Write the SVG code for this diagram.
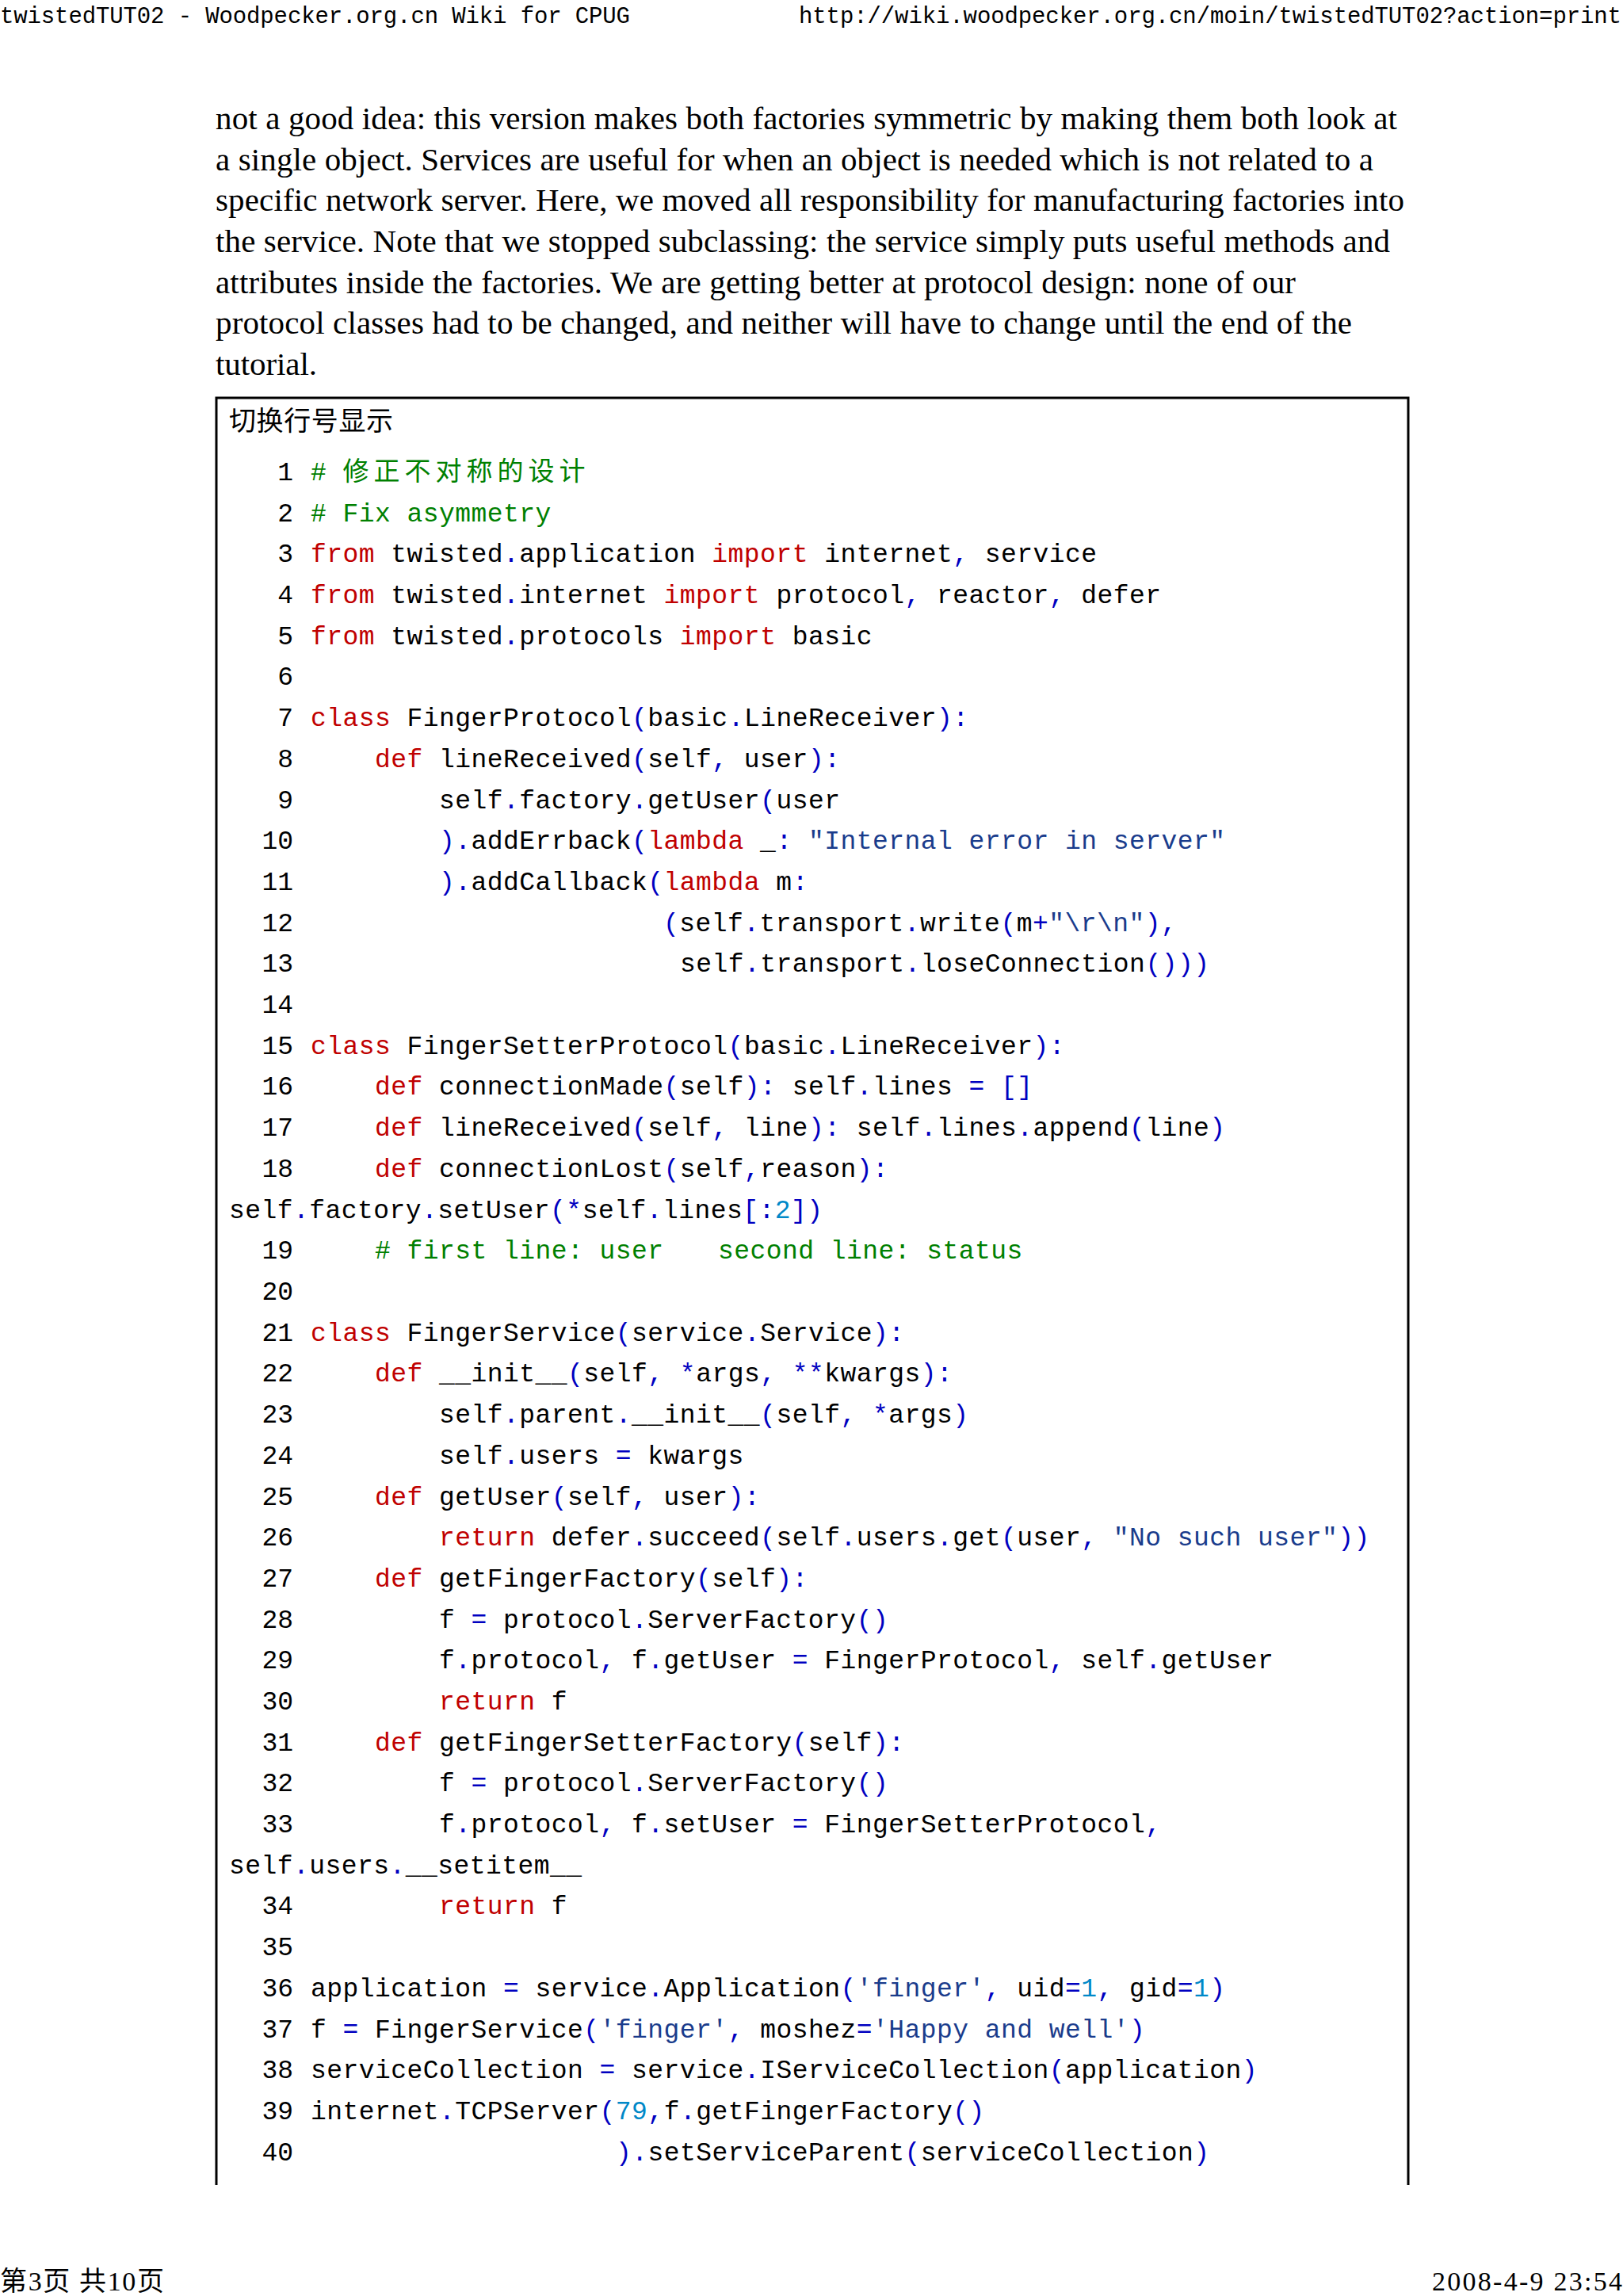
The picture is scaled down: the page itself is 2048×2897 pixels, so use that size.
<svg xmlns="http://www.w3.org/2000/svg" width="2048" height="2897" viewBox="0 0 2048 2897">
<style>
.hd{font-family:"Liberation Mono",monospace;font-size:29px;fill:#000}
.pr{font-family:"Liberation Serif",serif;font-size:41px;fill:#000}
.cd{font-family:"Liberation Mono","Noto Sans CJK SC",monospace;font-size:33px;letter-spacing:0.45px;fill:#000}
.ln{font-family:"Liberation Mono",monospace;font-size:33px;fill:#000}
.k{fill:#c00000}.c{fill:#008000}.s{fill:#1a3c8c}.p{fill:#0000c0}.n{fill:#0088c8}
.ft{font-family:"Liberation Serif","Noto Sans CJK SC",serif;font-size:34px;fill:#000}
</style>
<rect width="2048" height="2897" fill="#fff"/>
<g id="header">
<text class="hd" x="0" y="29" textLength="795" lengthAdjust="spacing">twistedTUT02 - Woodpecker.org.cn Wiki for CPUG</text>
<text class="hd" x="1008" y="29" textLength="1038" lengthAdjust="spacing">http://wiki.woodpecker.org.cn/moin/twistedTUT02?action=print</text>
</g>
<g id="paragraph">
<text class="pr" x="272" y="163" textLength="1491" lengthAdjust="spacing">not a good idea: this version makes both factories symmetric by making them both look at</text>
<text class="pr" x="272" y="215" textLength="1461" lengthAdjust="spacing">a single object. Services are useful for when an object is needed which is not related to a</text>
<text class="pr" x="272" y="266" textLength="1500" lengthAdjust="spacing">specific network server. Here, we moved all responsibility for manufacturing factories into</text>
<text class="pr" x="272" y="318" textLength="1482" lengthAdjust="spacing">the service. Note that we stopped subclassing: the service simply puts useful methods and</text>
<text class="pr" x="272" y="370" textLength="1363" lengthAdjust="spacing">attributes inside the factories. We are getting better at protocol design: none of our</text>
<text class="pr" x="272" y="421" textLength="1434" lengthAdjust="spacing">protocol classes had to be changed, and neither will have to change until the end of the</text>
<text class="pr" x="272" y="473" textLength="128" lengthAdjust="spacing">tutorial.</text>
</g>
<g id="codebox">
<path d="M273 2757 V502 H1777 V2757" fill="none" stroke="#000" stroke-width="3"/>
<text class="ft" x="289" y="543" font-family="Liberation Sans,Noto Sans CJK SC,sans-serif" textLength="207" lengthAdjust="spacing">切换行号显示</text>
</g>
<g id="linenumbers" class="ln" text-anchor="end" transform="translate(0,-5)">
<text x="370" y="611">1</text><text x="370" y="663">2</text><text x="370" y="714">3</text><text x="370" y="766">4</text><text x="370" y="818">5</text><text x="370" y="869">6</text><text x="370" y="921">7</text><text x="370" y="973">8</text><text x="370" y="1025">9</text><text x="370" y="1076">10</text><text x="370" y="1128">11</text><text x="370" y="1180">12</text><text x="370" y="1231">13</text><text x="370" y="1283">14</text><text x="370" y="1335">15</text><text x="370" y="1386">16</text><text x="370" y="1438">17</text><text x="370" y="1490">18</text><text x="370" y="1593">19</text><text x="370" y="1645">20</text><text x="370" y="1697">21</text><text x="370" y="1748">22</text><text x="370" y="1800">23</text><text x="370" y="1852">24</text><text x="370" y="1904">25</text><text x="370" y="1955">26</text><text x="370" y="2007">27</text><text x="370" y="2059">28</text><text x="370" y="2110">29</text><text x="370" y="2162">30</text><text x="370" y="2214">31</text><text x="370" y="2265">32</text><text x="370" y="2317">33</text><text x="370" y="2420">34</text><text x="370" y="2472">35</text><text x="370" y="2524">36</text><text x="370" y="2576">37</text><text x="370" y="2627">38</text><text x="370" y="2679">39</text><text x="370" y="2731">40</text>
</g>
<g id="code" class="cd" transform="translate(0,-5)">
<text x="392" y="611"><tspan class="c"># </tspan><tspan class="c" letter-spacing="6">修正不对称的设计</tspan></text>
<text x="392" y="663"><tspan class="c"># Fix asymmetry</tspan></text>
<text x="392" y="714"><tspan class="k">from</tspan> twisted<tspan class="p">.</tspan>application <tspan class="k">import</tspan> internet<tspan class="p">,</tspan> service</text>
<text x="392" y="766"><tspan class="k">from</tspan> twisted<tspan class="p">.</tspan>internet <tspan class="k">import</tspan> protocol<tspan class="p">,</tspan> reactor<tspan class="p">,</tspan> defer</text>
<text x="392" y="818"><tspan class="k">from</tspan> twisted<tspan class="p">.</tspan>protocols <tspan class="k">import</tspan> basic</text>
<text x="392" y="921"><tspan class="k">class</tspan> FingerProtocol<tspan class="p">(</tspan>basic<tspan class="p">.</tspan>LineReceiver<tspan class="p">):</tspan></text>
<text x="473" y="973"><tspan class="k">def</tspan> lineReceived<tspan class="p">(</tspan>self<tspan class="p">,</tspan> user<tspan class="p">):</tspan></text>
<text x="554" y="1025">self<tspan class="p">.</tspan>factory<tspan class="p">.</tspan>getUser<tspan class="p">(</tspan>user</text>
<text x="554" y="1076"><tspan class="p">).</tspan>addErrback<tspan class="p">(</tspan><tspan class="k">lambda</tspan> _<tspan class="p">:</tspan> <tspan class="s">"Internal error in server"</tspan></text>
<text x="554" y="1128"><tspan class="p">).</tspan>addCallback<tspan class="p">(</tspan><tspan class="k">lambda</tspan> m<tspan class="p">:</tspan></text>
<text x="837" y="1180"><tspan class="p">(</tspan>self<tspan class="p">.</tspan>transport<tspan class="p">.</tspan>write<tspan class="p">(</tspan>m<tspan class="p">+</tspan><tspan class="s">"\r\n"</tspan><tspan class="p">),</tspan></text>
<text x="858" y="1231">self<tspan class="p">.</tspan>transport<tspan class="p">.</tspan>loseConnection<tspan class="p">()))</tspan></text>
<text x="392" y="1335"><tspan class="k">class</tspan> FingerSetterProtocol<tspan class="p">(</tspan>basic<tspan class="p">.</tspan>LineReceiver<tspan class="p">):</tspan></text>
<text x="473" y="1386"><tspan class="k">def</tspan> connectionMade<tspan class="p">(</tspan>self<tspan class="p">):</tspan> self<tspan class="p">.</tspan>lines <tspan class="p">=</tspan> <tspan class="p">[]</tspan></text>
<text x="473" y="1438"><tspan class="k">def</tspan> lineReceived<tspan class="p">(</tspan>self<tspan class="p">,</tspan> line<tspan class="p">):</tspan> self<tspan class="p">.</tspan>lines<tspan class="p">.</tspan>append<tspan class="p">(</tspan>line<tspan class="p">)</tspan></text>
<text x="473" y="1490"><tspan class="k">def</tspan> connectionLost<tspan class="p">(</tspan>self<tspan class="p">,</tspan>reason<tspan class="p">):</tspan></text>
<text x="289" y="1542">self<tspan class="p">.</tspan>factory<tspan class="p">.</tspan>setUser<tspan class="p">(*</tspan>self<tspan class="p">.</tspan>lines<tspan class="p">[:</tspan><tspan class="n">2</tspan><tspan class="p">])</tspan></text>
<text x="473" y="1593" class="c"># first line: user <tspan x="906">second line: status</tspan></text>
<text x="392" y="1697"><tspan class="k">class</tspan> FingerService<tspan class="p">(</tspan>service<tspan class="p">.</tspan>Service<tspan class="p">):</tspan></text>
<text x="473" y="1748"><tspan class="k">def</tspan> __init__<tspan class="p">(</tspan>self<tspan class="p">,</tspan> <tspan class="p">*</tspan>args<tspan class="p">,</tspan> <tspan class="p">**</tspan>kwargs<tspan class="p">):</tspan></text>
<text x="554" y="1800">self<tspan class="p">.</tspan>parent<tspan class="p">.</tspan>__init__<tspan class="p">(</tspan>self<tspan class="p">,</tspan> <tspan class="p">*</tspan>args<tspan class="p">)</tspan></text>
<text x="554" y="1852">self<tspan class="p">.</tspan>users <tspan class="p">=</tspan> kwargs</text>
<text x="473" y="1904"><tspan class="k">def</tspan> getUser<tspan class="p">(</tspan>self<tspan class="p">,</tspan> user<tspan class="p">):</tspan></text>
<text x="554" y="1955"><tspan class="k">return</tspan> defer<tspan class="p">.</tspan>succeed<tspan class="p">(</tspan>self<tspan class="p">.</tspan>users<tspan class="p">.</tspan>get<tspan class="p">(</tspan>user<tspan class="p">,</tspan> <tspan class="s">"No such user"</tspan><tspan class="p">))</tspan></text>
<text x="473" y="2007"><tspan class="k">def</tspan> getFingerFactory<tspan class="p">(</tspan>self<tspan class="p">):</tspan></text>
<text x="554" y="2059">f <tspan class="p">=</tspan> protocol<tspan class="p">.</tspan>ServerFactory<tspan class="p">()</tspan></text>
<text x="554" y="2110">f<tspan class="p">.</tspan>protocol<tspan class="p">,</tspan> f<tspan class="p">.</tspan>getUser <tspan class="p">=</tspan> FingerProtocol<tspan class="p">,</tspan> self<tspan class="p">.</tspan>getUser</text>
<text x="554" y="2162"><tspan class="k">return</tspan> f</text>
<text x="473" y="2214"><tspan class="k">def</tspan> getFingerSetterFactory<tspan class="p">(</tspan>self<tspan class="p">):</tspan></text>
<text x="554" y="2265">f <tspan class="p">=</tspan> protocol<tspan class="p">.</tspan>ServerFactory<tspan class="p">()</tspan></text>
<text x="554" y="2317">f<tspan class="p">.</tspan>protocol<tspan class="p">,</tspan> f<tspan class="p">.</tspan>setUser <tspan class="p">=</tspan> FingerSetterProtocol<tspan class="p">,</tspan></text>
<text x="289" y="2369">self<tspan class="p">.</tspan>users<tspan class="p">.</tspan>__setitem__</text>
<text x="554" y="2420"><tspan class="k">return</tspan> f</text>
<text x="392" y="2524">application <tspan class="p">=</tspan> service<tspan class="p">.</tspan>Application<tspan class="p">(</tspan><tspan class="s">'finger'</tspan><tspan class="p">,</tspan> uid<tspan class="p">=</tspan><tspan class="n">1</tspan><tspan class="p">,</tspan> gid<tspan class="p">=</tspan><tspan class="n">1</tspan><tspan class="p">)</tspan></text>
<text x="392" y="2576">f <tspan class="p">=</tspan> FingerService<tspan class="p">(</tspan><tspan class="s">'finger'</tspan><tspan class="p">,</tspan> moshez<tspan class="p">=</tspan><tspan class="s">'Happy and well'</tspan><tspan class="p">)</tspan></text>
<text x="392" y="2627">serviceCollection <tspan class="p">=</tspan> service<tspan class="p">.</tspan>IServiceCollection<tspan class="p">(</tspan>application<tspan class="p">)</tspan></text>
<text x="392" y="2679">internet<tspan class="p">.</tspan>TCPServer<tspan class="p">(</tspan><tspan class="n">79</tspan><tspan class="p">,</tspan>f<tspan class="p">.</tspan>getFingerFactory<tspan class="p">()</tspan></text>
<text x="777" y="2731"><tspan class="p">).</tspan>setServiceParent<tspan class="p">(</tspan>serviceCollection<tspan class="p">)</tspan></text>
</g>
<g id="footer">
<text class="ft" x="0" y="2890" textLength="207" lengthAdjust="spacing">第3页 共10页</text>
<text class="ft" x="1807" y="2890" textLength="240" lengthAdjust="spacing">2008-4-9 23:54</text>
</g>
</svg>
